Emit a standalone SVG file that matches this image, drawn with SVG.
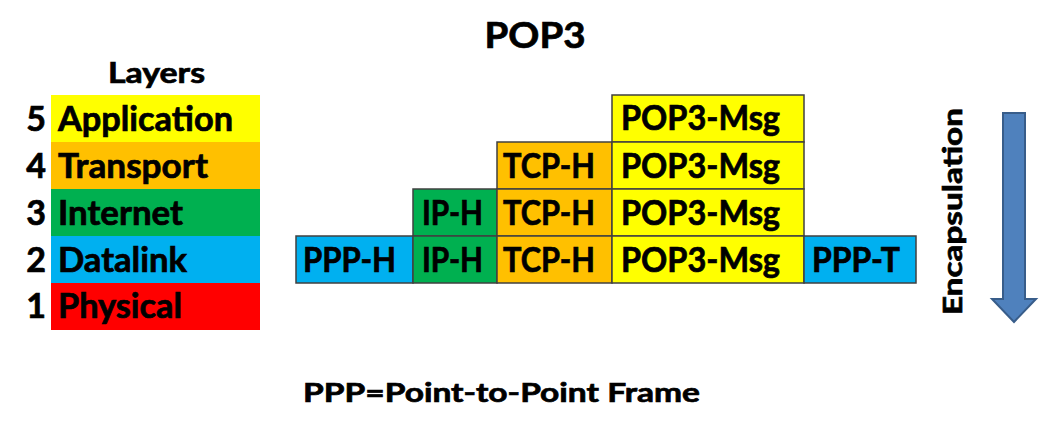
<svg xmlns="http://www.w3.org/2000/svg" width="1060" height="441" viewBox="0 0 1060 441">
<style>
text{font-family:Lato,"Liberation Sans",sans-serif;font-weight:bold;fill:#000;stroke:#000;stroke-width:0.7}
.t{font-size:34px}
.n{font-size:34px;text-anchor:middle}
.box{stroke:#404040;stroke-width:1.5}
.y{fill:#FFFF00}.o{fill:#FFC000}.g{fill:#00B050}.b{fill:#00B0F0}.r{fill:#FF0000}
</style>
<rect width="1060" height="441" fill="#fff"/>
<text x="535" y="48" font-size="36" text-anchor="middle" textLength="101" lengthAdjust="spacingAndGlyphs">POP3</text>
<g id="layers">
<text x="108" y="83" font-size="29" textLength="97" lengthAdjust="spacingAndGlyphs">Layers</text>
<g id="layer5"><rect class="y" x="51" y="95" width="209" height="47"/><text class="n" x="36" y="131">5</text><text class="t" x="58" y="131" textLength="175" lengthAdjust="spacingAndGlyphs">Application</text></g>
<g id="layer4"><rect class="o" x="51" y="142" width="209" height="47"/><text class="n" x="36" y="178">4</text><text class="t" x="58" y="178" textLength="150" lengthAdjust="spacingAndGlyphs">Transport</text></g>
<g id="layer3"><rect class="g" x="51" y="189" width="209" height="47"/><text class="n" x="36" y="225">3</text><text class="t" x="58" y="225" textLength="125" lengthAdjust="spacingAndGlyphs">Internet</text></g>
<g id="layer2"><rect class="b" x="51" y="236" width="209" height="47"/><text class="n" x="36" y="272">2</text><text class="t" x="58" y="272" textLength="129" lengthAdjust="spacingAndGlyphs">Datalink</text></g>
<g id="layer1"><rect class="r" x="51" y="283" width="209" height="47"/><text class="n" x="36" y="318">1</text><text class="t" x="58" y="318" textLength="124" lengthAdjust="spacingAndGlyphs">Physical</text></g>
</g>
<g id="row5">
<g id="pop3msg5"><rect class="box y" x="612" y="95" width="192" height="47"/><text class="t" x="621" y="130" textLength="159" lengthAdjust="spacingAndGlyphs">POP3-Msg</text></g>
</g>
<g id="row4">
<g id="tcph4"><rect class="box o" x="497" y="142" width="115" height="47"/><text class="t" x="503" y="178" textLength="92" lengthAdjust="spacingAndGlyphs">TCP-H</text></g>
<g id="pop3msg4"><rect class="box y" x="612" y="142" width="192" height="47"/><text class="t" x="621" y="178" textLength="159" lengthAdjust="spacingAndGlyphs">POP3-Msg</text></g>
</g>
<g id="row3">
<g id="iph3"><rect class="box g" x="413" y="189" width="84" height="47"/><text class="t" x="422" y="225" textLength="61" lengthAdjust="spacingAndGlyphs">IP-H</text></g>
<g id="tcph3"><rect class="box o" x="497" y="189" width="115" height="47"/><text class="t" x="503" y="225" textLength="92" lengthAdjust="spacingAndGlyphs">TCP-H</text></g>
<g id="pop3msg3"><rect class="box y" x="612" y="189" width="192" height="47"/><text class="t" x="621" y="225" textLength="159" lengthAdjust="spacingAndGlyphs">POP3-Msg</text></g>
</g>
<g id="row2">
<g id="ppph"><rect class="box b" x="296" y="236" width="117" height="47"/><text class="t" x="303" y="272" textLength="93" lengthAdjust="spacingAndGlyphs">PPP-H</text></g>
<g id="iph2"><rect class="box g" x="413" y="236" width="84" height="47"/><text class="t" x="422" y="272" textLength="61" lengthAdjust="spacingAndGlyphs">IP-H</text></g>
<g id="tcph2"><rect class="box o" x="497" y="236" width="115" height="47"/><text class="t" x="503" y="272" textLength="92" lengthAdjust="spacingAndGlyphs">TCP-H</text></g>
<g id="pop3msg2"><rect class="box y" x="612" y="236" width="192" height="47"/><text class="t" x="621" y="272" textLength="159" lengthAdjust="spacingAndGlyphs">POP3-Msg</text></g>
<g id="pppt"><rect class="box b" x="804" y="236" width="112" height="47"/><text class="t" x="812" y="272" textLength="88" lengthAdjust="spacingAndGlyphs">PPP-T</text></g>
</g>
<g id="encapsulation">
<text transform="translate(962,315) rotate(-90)" font-size="27" textLength="207" lengthAdjust="spacingAndGlyphs">Encapsulation</text>
<path d="M1003,113 H1025 V299 H1036 L1014,322 L992,299 H1003 Z" fill="#4F81BD" stroke="#385D8A" stroke-width="2"/>
</g>
<text x="303" y="402" font-size="27" textLength="397" lengthAdjust="spacingAndGlyphs">PPP=Point-to-Point Frame</text>
</svg>
